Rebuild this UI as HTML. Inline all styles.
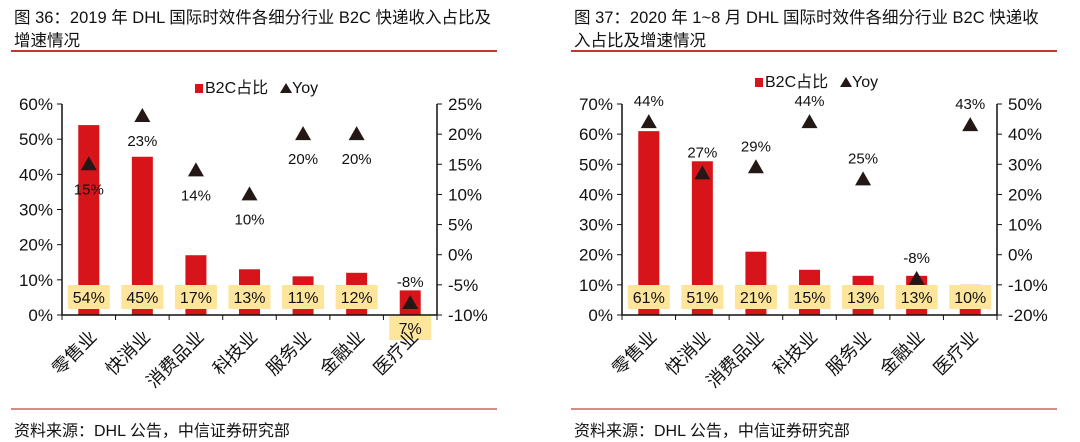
<!DOCTYPE html>
<html><head><meta charset="utf-8"><style>
body{margin:0;background:#fff;width:1080px;height:442px;overflow:hidden;font-family:"Liberation Sans","Noto Sans CJK SC",sans-serif}
.t{position:absolute;font-size:16.5px;line-height:23px;color:#111;white-space:nowrap}
.hr{position:absolute;height:1.5px;background:#c0392b}
.ft{position:absolute;font-size:16px;color:#111}
svg{position:absolute;left:0;top:0}
</style></head><body>
<div class="t" style="left:14px;top:7px">图 36：2019 年 DHL 国际时效件各细分行业 B2C 快递收入占比及<br>增速情况</div>
<div class="hr" style="left:11px;top:50px;width:486px"></div>
<div class="t" style="left:574px;top:7px">图 37：2020 年 1~8 月 DHL 国际时效件各细分行业 B2C 快递收<br>入占比及增速情况</div>
<div class="hr" style="left:571px;top:50px;width:486px"></div>
<div class="hr" style="left:11px;top:408px;width:486px;background:#d88"></div>
<div class="hr" style="left:571px;top:408px;width:486px;background:#d88"></div>
<div class="ft" style="left:14px;top:417px">资料来源：DHL 公告，中信证券研究部</div>
<div class="ft" style="left:574px;top:417px">资料来源：DHL 公告，中信证券研究部</div>
<svg id="svg" width="1080" height="442"></svg>
<script>
const categories=["零售业","快消业","消费品业","科技业","服务业","金融业","医疗业"];
const share2019=[54,45,17,13,11,12,7];
const yoy2019=[15,23,14,10,20,20,-8];
const share2020=[61,51,21,15,13,13,10];
const yoy2020=[44,27,29,44,25,-8,43];
const leftTicks2019=[0,10,20,30,40,50,60];
const rightTicks2019=[-10,-5,0,5,10,15,20,25];
const leftTicks2020=[0,10,20,30,40,50,60,70];
const rightTicks2020=[-20,-10,0,10,20,30,40,50];
// label offset: 1 = above marker, -1 = below
const yoyLabelPos2019=[-1,-1,-1,-1,-1,-1,1];
const yoyLabelPos2020=[1,1,1,1,1,1,1];

const NS="http://www.w3.org/2000/svg";
const svg=document.getElementById('svg');
function mk(tag,attrs,parent){const e=document.createElementNS(NS,tag);for(const k in attrs)e.setAttribute(k,attrs[k]);(parent||svg).appendChild(e);return e;}

function chart(p,share,yoy,lt,rt,lpos,tag){
  const g=mk('g',{});
  
  
  const x0=p.x0,x1=p.x1,top=104,bot=315;
  const lmin=lt[0],lmax=lt[lt.length-1],rmin=rt[0],rmax=rt[rt.length-1];
  const yL=v=>bot-(v-lmin)/(lmax-lmin)*(bot-top);
  const yR=v=>bot-(v-rmin)/(rmax-rmin)*(bot-top);
  const cw=(x1-x0)/categories.length;
  const xc=i=>x0+cw*(i+0.5);
  const lg=mk('g',{},g);
  mk('rect',{x:p.lx,y:p.ly-6,width:8,height:9,fill:'#d7141a'},lg);
  const lt1=mk('text',{x:p.lx+10,y:p.ly+3,'font-size':16,fill:'#111'},lg);lt1.textContent='B2C占比';
  mk('polygon',{points:`${p.lx+85},${p.ly+3} ${p.lx+91},${p.ly-7} ${p.lx+97},${p.ly+3}`,fill:'#231815'},lg);
  const lt2=mk('text',{x:p.lx+97,y:p.ly+3,'font-size':16,fill:'#111'},lg);lt2.textContent='Yoy';
  mk('line',{x1:x0,y1:top,x2:x0,y2:bot,stroke:'#111','stroke-width':1.5},g);
  mk('line',{x1:x1,y1:top,x2:x1,y2:bot,stroke:'#111','stroke-width':1.5},g);
  lt.forEach(v=>{const y=yL(v);mk('line',{x1:x0-5,y1:y,x2:x0,y2:y,stroke:'#111'},g);
    const t=mk('text',{x:x0-9,y:y+6,'font-size':17,'text-anchor':'end',fill:'#111'},g);t.textContent=v+'%';
    });
  rt.forEach(v=>{const y=yR(v);mk('line',{x1:x1,y1:y,x2:x1+5,y2:y,stroke:'#111'},g);
    const t=mk('text',{x:x1+11,y:y+6,'font-size':17,fill:'#111'},g);t.textContent=v+'%';
    });
  share.forEach((v,i)=>{const r=mk('rect',{x:xc(i)-10.5,y:yL(v),width:21,height:bot-yL(v),fill:'#d7141a'},g);
    });
  mk('line',{x1:x0,y1:bot,x2:x1,y2:bot,stroke:'#111','stroke-width':1.5},g);
  for(let i=0;i<=categories.length;i++){const x=x0+cw*i;mk('line',{x1:x,y1:bot,x2:x,y2:bot+5,stroke:'#111'},g);}
  share.forEach((v,i)=>{const below=(bot-yL(v))<27;const cy=below?328:297;
    mk('rect',{x:xc(i)-21,y:cy-12,width:42,height:24,fill:'#fde59b'},g);
    const t=mk('text',{x:xc(i),y:cy+6,'font-size':16,'text-anchor':'middle',fill:'#111'},g);t.textContent=v+'%';
    });
  yoy.forEach((v,i)=>{const y=yR(v),x=xc(i);
    const m=mk('polygon',{points:`${x-8},${y+6} ${x},${y-8} ${x+8},${y+6}`,fill:'#231815'},g);
    
    const ly=lpos[i]>0?y-16:y+30;
    const t=mk('text',{x:x,y:ly,'font-size':15,'text-anchor':'middle',fill:'#111'},g);t.textContent=v+'%';
    });
  categories.forEach((c,i)=>{const x=xc(i)+9,y=bot+23;
    const t=mk('text',{x:x,y:y,'font-size':18,'text-anchor':'end',fill:'#111',transform:`rotate(-45 ${x} ${y})`},g);t.textContent=c;
    });
}
chart({x0:62,x1:437,lx:195,ly:90},share2019,yoy2019,leftTicks2019,rightTicks2019,yoyLabelPos2019,'left');
chart({x0:622,x1:997,lx:755,ly:84},share2020,yoy2020,leftTicks2020,rightTicks2020,yoyLabelPos2020,'right');
</script>
</body></html>
